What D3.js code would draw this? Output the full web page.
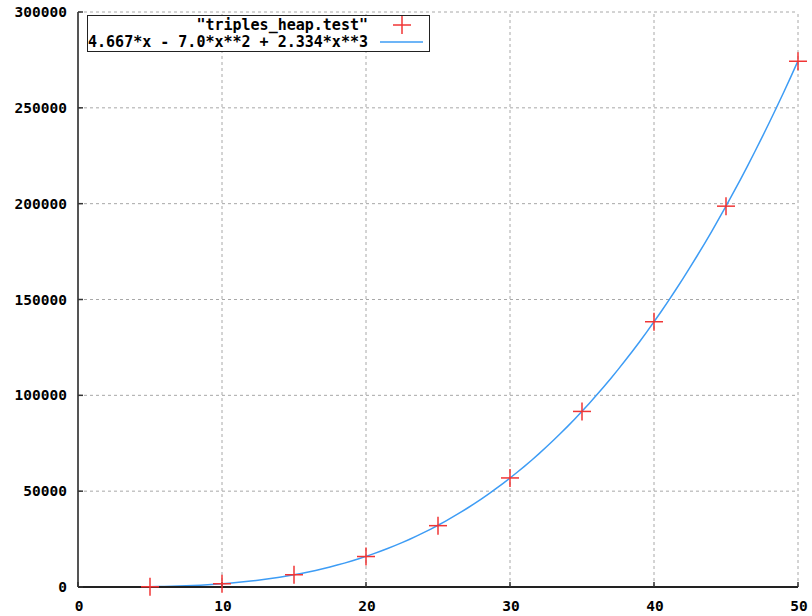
<!DOCTYPE html>
<html>
<head>
<meta charset="utf-8">
<script src="https://cdn.jsdelivr.net/npm/d3@7"></script>
<style>
  body { margin: 0; background: #fff; }
  text { font-family: "DejaVu Sans Mono", monospace; font-weight: bold; }
</style>
</head>
<body>
<svg id="grafico" width="812" height="616"></svg>
<script>
// data
const sizes = [5, 10, 15, 20, 25, 30, 35, 40, 45, 50];
const times = [140, 1700, 6400, 15900, 32000, 56900, 91600, 138400, 198700, 274300];
// fit shown in the legend: a*x + b*x**2 + c*x**3
const fitCoef = [4.667, -7.0, 2.334];
const xTicks = [0, 10, 20, 30, 40, 50];
const yTicks = [0, 50000, 100000, 150000, 200000, 250000, 300000];
const dataLabel = '"triples_heap.test"';
const fitLabel = "4.667*x - 7.0*x**2 + 2.334*x**3";

const svg = d3.select("#grafico");
const mLeft = 78, mRight = 798, mTop = 12, mBottom = 587;

const x = d3.scaleLinear().domain([0, 50]).range([mLeft, mRight]);
const y = d3.scaleLinear().domain([0, 300000]).range([mBottom, mTop]);

// grid
svg.append("g").selectAll("line").data(xTicks.slice(1)).join("line")
  .attr("x1", d => x(d)).attr("x2", d => x(d))
  .attr("y1", mBottom).attr("y2", mTop)
  .attr("stroke", "#a8a8a8").attr("stroke-dasharray", "3,3");
svg.append("g").selectAll("line").data(yTicks.slice(1)).join("line")
  .attr("x1", mLeft).attr("x2", mRight)
  .attr("y1", d => y(d)).attr("y2", d => y(d))
  .attr("stroke", "#a8a8a8").attr("stroke-dasharray", "3,3");

// fit curve
const fit = v => fitCoef[0] * v + fitCoef[1] * v * v + fitCoef[2] * v * v * v;
const xs = d3.range(0, 101).map(i => i * 0.5);
svg.append("clipPath").attr("id", "clip")
  .append("rect").attr("x", mLeft).attr("y", mTop).attr("width", mRight - mLeft).attr("height", mBottom - mTop);
svg.append("path")
  .datum(xs)
  .attr("clip-path", "url(#clip)")
  .attr("fill", "none")
  .attr("stroke", "#3d9cf5")
  .attr("stroke-width", 1.5)
  .attr("d", d3.line().x(d => x(d)).y(d => y(Math.max(fit(d), 0))));

// axes
svg.append("line").attr("x1", mLeft).attr("x2", mLeft).attr("y1", mTop).attr("y2", mBottom)
  .attr("stroke", "#555").attr("stroke-width", 2);
svg.append("line").attr("x1", mLeft).attr("x2", mRight).attr("y1", mBottom).attr("y2", mBottom)
  .attr("stroke", "#222").attr("stroke-width", 2);

svg.append("g").selectAll("line").data(xTicks).join("line")
  .attr("x1", d => x(d)).attr("x2", d => x(d))
  .attr("y1", mBottom).attr("y2", mBottom - 5)
  .attr("stroke", "#333").attr("stroke-width", 1.5);
svg.append("g").selectAll("line").data(yTicks).join("line")
  .attr("x1", mLeft).attr("x2", mLeft + 5)
  .attr("y1", d => y(d)).attr("y2", d => y(d))
  .attr("stroke", "#333").attr("stroke-width", 1.5);

svg.append("g").selectAll("text").data(xTicks).join("text")
  .attr("x", d => x(d) + 1).attr("y", 611)
  .attr("text-anchor", "middle")
  .style("font-size", "14.5px")
  .text(d => d);
svg.append("g").selectAll("text").data(yTicks).join("text")
  .attr("x", 67).attr("y", d => y(d) + 5)
  .attr("text-anchor", "end")
  .style("font-size", "14.5px")
  .text(d => d);

// data points
const cross = 9;
const pts = svg.append("g").selectAll("g").data(sizes).join("g")
  .attr("transform", (d, i) => `translate(${x(d)},${y(times[i])})`);
pts.append("line").attr("x1", -cross).attr("x2", cross).attr("y1", 0).attr("y2", 0)
  .attr("stroke", "#f03535").attr("stroke-width", 1.5);
pts.append("line").attr("y1", -cross).attr("y2", cross).attr("x1", 0).attr("x2", 0)
  .attr("stroke", "#f03535").attr("stroke-width", 1.5);

// legend
const lg = svg.append("g");
lg.append("rect").attr("x", 87.5).attr("y", 15.5).attr("width", 342).attr("height", 36)
  .attr("fill", "#fff").attr("stroke", "#222").attr("stroke-width", 1);
lg.append("text").attr("x", 368).attr("y", 30).attr("text-anchor", "end")
  .style("font-size", "15px").text(dataLabel);
lg.append("line").attr("x1", 393).attr("x2", 411).attr("y1", 25).attr("y2", 25)
  .attr("stroke", "#f03535").attr("stroke-width", 1.5);
lg.append("line").attr("x1", 402).attr("x2", 402).attr("y1", 16).attr("y2", 34)
  .attr("stroke", "#f03535").attr("stroke-width", 1.5);
lg.append("text").attr("x", 368).attr("y", 47).attr("text-anchor", "end")
  .style("font-size", "15px").text(fitLabel);
lg.append("line").attr("x1", 380).attr("x2", 423).attr("y1", 42).attr("y2", 42)
  .attr("stroke", "#3d9cf5").attr("stroke-width", 1.5);
</script>
</body>
</html>
